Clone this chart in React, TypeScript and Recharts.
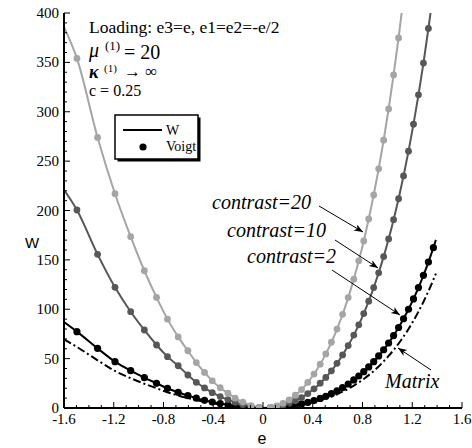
import React from 'react';
import { ComposedChart, Line, XAxis, YAxis } from 'recharts';

// Strain e (loading e3=e, e1=e2=-e/2) along the curves
const STRAIN = [
  -1.6, -1.496, -1.33, -1.19, -1.064, -0.954, -0.856, -0.768, -0.682, -0.604,
  -0.536, -0.47, -0.408, -0.344, -0.282, -0.224, -0.162, -0.096, -0.03, 0,
  0.06, 0.11, 0.16, 0.21, 0.26, 0.31, 0.36, 0.41, 0.46, 0.505,
  0.55, 0.595, 0.64, 0.685, 0.73, 0.77, 0.81, 0.85, 0.89, 0.93,
  0.97, 1.01, 1.05, 1.09, 1.13, 1.17, 1.21, 1.25, 1.29, 1.33,
  1.37, 1.39,
];
// strains that only carry the solid line, no Voigt marker
const LINE_ONLY = [-1.6, 0, 1.39];

const W_C20 = [
  386, 354, 274, 217, 173.5, 139, 112, 90, 72, 58,
  46, 36, 27.5, 20.5, 15, 10, 6, 2.5, 0.5, 0,
  0.6, 2.2, 4.7, 8.2, 12.9, 18.7, 25.9, 34.4, 44.4, 54.8,
  66.6, 79.9, 94.9, 111.8, 130.5, 149, 169.2, 191.4, 215.7, 242.2,
  271.2, 302.8, 337.3, 374.8, 415.7, null, null, null, null, null,
  null, null,
];
const W_C10 = [
  221, 200.5, 155.6, 122.2, 97.5, 79, 63.8, 52, 42.8, 33.4,
  26, 20.3, 15.5, 11.6, 8.5, 5.7, 3.4, 1.4, 0.3, 0,
  0.4, 1.2, 2.6, 4.7, 7.3, 10.6, 14.6, 19.4, 25.1, 31,
  37.6, 45.2, 53.7, 63.2, 73.8, 84.2, 95.6, 108.2, 121.9, 136.9,
  153.3, 171.2, 190.7, 211.9, 235, 260.1, 287.4, 317.1, 349.3, 384.3,
  422, null,
];
const W_C2 = [
  87, 77.3, 60.4, 46.9, 37.8, 30.7, 25, 19.9, 15.9, 12.5,
  10, 7.8, 6, 4.5, 3.3, 2.2, 1.3, 0.5, 0.1, 0,
  0.1, 0.5, 1, 1.8, 2.8, 4.1, 5.6, 7.5, 9.7, 11.9,
  14.5, 17.4, 20.6, 24.3, 28.4, 32.4, 36.8, 41.6, 46.9, 52.7,
  59, 65.8, 73.3, 81.5, 90.4, 100, 110.5, 121.9, 134.4, 147.8,
  162.4, 170.2,
];
const W_MATRIX = [
  69.5, 61.8, 48.3, 37.5, 30.2, 24.6, 20, 15.9, 12.7, 10,
  8, 6.2, 4.8, 3.6, 2.6, 1.8, 1, 0.4, 0.1, 0,
  0.1, 0.4, 0.8, 1.4, 2.2, 3.3, 4.5, 6, 7.7, 9.5,
  11.6, 13.9, 16.5, 19.4, 22.7, 25.9, 29.4, 33.3, 37.5, 42.1,
  47.2, 52.7, 58.7, 65.2, 72.3, 80, 88.4, 97.6, 107.5, 118.3,
  130, 136.2,
];

const X_MAJOR = [-1.6, -1.2, -0.8, -0.4, 0, 0.4, 0.8, 1.2, 1.6];
const X_MINOR = [
  -1.6, -1.5, -1.4, -1.3, -1.2, -1.1, -1, -0.9, -0.8, -0.7, -0.6, -0.5, -0.4, -0.3, -0.2, -0.1,
  0, 0.1, 0.2, 0.3, 0.4, 0.5, 0.6, 0.7, 0.8, 0.9, 1, 1.1, 1.2, 1.3, 1.4, 1.5, 1.6,
];
const Y_MAJOR = [0, 50, 100, 150, 200, 250, 300, 350, 400];
const Y_MINOR = [
  0, 10, 20, 30, 40, 50, 60, 70, 80, 90, 100, 110, 120, 130, 140, 150, 160, 170, 180, 190, 200,
  210, 220, 230, 240, 250, 260, 270, 280, 290, 300, 310, 320, 330, 340, 350, 360, 370, 380, 390, 400,
];

const LIGHT = '#a5a5a5';
const DARK = '#575757';
const SERIF = "'Liberation Serif', 'Times New Roman', Times, serif";
const SANS = "'Liberation Sans', Arial, sans-serif";

const serif = (size: number, extra: React.CSSProperties = {}): React.CSSProperties => ({
  fontFamily: SERIF,
  fontSize: size,
  ...extra,
});

const rows = STRAIN.map((e, i) => ({
  e,
  c20: W_C20[i],
  c10: W_C10[i],
  c2: W_C2[i],
  m: W_MATRIX[i],
}));

const isMajor = (v: number, list: number[]) => list.some((m) => Math.abs(m - v) < 1e-6);

// ticks point inward, majors longer and labelled
const BottomTick = ({ x, y, payload }: any) => {
  const major = isMajor(payload.value, X_MAJOR);
  return (
    <g>
      <line x1={x} x2={x} y1={y} y2={y - (major ? 6 : 3)} stroke="#000" strokeWidth={1} />
      {major && (
        <text x={x} y={y + 16} textAnchor="middle" style={serif(15)} fill="#000">
          {String(payload.value)}
        </text>
      )}
    </g>
  );
};

const TopTick = ({ x, y, payload }: any) => {
  const major = isMajor(payload.value, X_MAJOR);
  return <line x1={x} x2={x} y1={y} y2={y + (major ? 6 : 3)} stroke="#000" strokeWidth={1} />;
};

const LeftTick = ({ x, y, payload }: any) => {
  const major = isMajor(payload.value, Y_MAJOR);
  return (
    <g>
      <line x1={x} x2={x + (major ? 6 : 3)} y1={y} y2={y} stroke="#000" strokeWidth={1} />
      {major && (
        <text x={x - 5} y={y + 5} textAnchor="end" style={serif(15)} fill="#000">
          {String(payload.value)}
        </text>
      )}
    </g>
  );
};

const RightTick = ({ x, y, payload }: any) => {
  const major = isMajor(payload.value, Y_MAJOR);
  return <line x1={x} x2={x - (major ? 6 : 3)} y1={y} y2={y} stroke="#000" strokeWidth={1} />;
};

const markerDot = (color: string, r: number) => (props: any) => {
  const { cx, cy, payload, value, index } = props;
  const v = Array.isArray(value) ? value[1] : value;
  if (LINE_ONLY.includes(payload.e) || v == null || v > 400 || cx == null || cy == null) {
    return <g key={`n-${index}`} />;
  }
  return <circle key={`d-${index}`} cx={cx} cy={cy} r={r} fill={color} stroke="none" />;
};

const axisLine = { stroke: '#000', strokeWidth: 2 };

export default function App() {
  return (
    <div style={{ position: 'absolute', left: 0, top: 0, width: 472, height: 448, background: '#fff', fontFamily: SERIF }}>
      <ComposedChart
        width={472}
        height={448}
        data={rows}
        margin={{ top: 13, right: 10, bottom: 10, left: 30 }}
      >
        <XAxis
          xAxisId="b"
          dataKey="e"
          type="number"
          domain={[-1.6, 1.6]}
          ticks={X_MINOR}
          interval={0}
          tick={<BottomTick />}
          tickLine={false}
          tickSize={0}
          tickMargin={0}
          axisLine={axisLine}
          height={30}
          allowDataOverflow
        />
        <XAxis
          xAxisId="t"
          dataKey="e"
          orientation="top"
          type="number"
          domain={[-1.6, 1.6]}
          ticks={X_MINOR}
          interval={0}
          tick={<TopTick />}
          tickLine={false}
          tickSize={0}
          tickMargin={0}
          axisLine={axisLine}
          height={0}
          allowDataOverflow
        />
        <YAxis
          yAxisId="l"
          type="number"
          domain={[0, 400]}
          ticks={Y_MINOR}
          interval={0}
          tick={<LeftTick />}
          tickLine={false}
          tickSize={0}
          tickMargin={0}
          axisLine={axisLine}
          width={34}
          allowDataOverflow
        />
        <YAxis
          yAxisId="r"
          orientation="right"
          type="number"
          domain={[0, 400]}
          ticks={Y_MINOR}
          interval={0}
          tick={<RightTick />}
          tickLine={false}
          tickSize={0}
          tickMargin={0}
          axisLine={axisLine}
          width={0}
          allowDataOverflow
        />

        <Line
          xAxisId="b"
          yAxisId="l"
          dataKey="m"
          type="monotone"
          stroke="#000"
          strokeWidth={2}
          strokeDasharray="8 3 2 3"
          dot={false}
          activeDot={false}
          isAnimationActive={false}
        />
        <Line
          xAxisId="b"
          yAxisId="l"
          dataKey="c2"
          type="monotone"
          stroke="#000"
          strokeWidth={2}
          dot={markerDot('#000', 3.6)}
          activeDot={false}
          isAnimationActive={false}
        />
        <Line
          xAxisId="b"
          yAxisId="l"
          dataKey="c10"
          type="monotone"
          stroke={DARK}
          strokeWidth={2}
          dot={markerDot(DARK, 3.4)}
          activeDot={false}
          isAnimationActive={false}
        />
        <Line
          xAxisId="b"
          yAxisId="l"
          dataKey="c20"
          type="monotone"
          stroke={LIGHT}
          strokeWidth={2}
          dot={markerDot(LIGHT, 3.4)}
          activeDot={false}
          isAnimationActive={false}
        />
      </ComposedChart>

      <svg
        width={472}
        height={448}
        style={{ position: 'absolute', left: 0, top: 0, pointerEvents: 'none' }}
      >
        <defs>
          <marker id="ah" markerUnits="userSpaceOnUse" markerWidth={10} markerHeight={8} refX={9} refY={3.5} orient="auto">
            <path d="M0,0 L9,3.5 L0,7 L2.5,3.5 Z" fill="#000" />
          </marker>
        </defs>

        {/* axis titles */}
        <text x={32} y={248} textAnchor="middle" style={{ fontFamily: SANS, fontSize: 15 }} fill="#000">W</text>
        <text x={262} y={444} textAnchor="middle" style={{ fontFamily: SANS, fontSize: 16 }} fill="#000">e</text>

        {/* loading info */}
        <text x={89} y={33} style={serif(17.5)} fill="#000">Loading: e3=e, e1=e2=-e/2</text>
        <text x={89} y={57} style={serif(20, { fontStyle: 'italic' })} fill="#000">μ</text>
        <text x={105} y={50} style={serif(13)} fill="#000">(1)</text>
        <text x={124} y={59} style={serif(20)} fill="#000">= 20</text>
        <text x={89} y={78} style={serif(18, { fontStyle: 'italic', fontWeight: 'bold' })} fill="#000">κ</text>
        <text x={104} y={72} style={serif(11)} fill="#000">(1)</text>
        <text x={124} y={77} style={serif(17)} fill="#000">→ ∞</text>
        <text x={89} y={96} style={serif(16)} fill="#000">c = 0.25</text>

        {/* legend */}
        <rect x={117.5} y={117.5} width={83} height={44} fill="#000" />
        <rect x={115} y={115} width={83} height={44} fill="#fff" stroke="#000" strokeWidth={1.5} />
        <line x1={123} x2={162} y1={130} y2={130} stroke="#000" strokeWidth={2} />
        <text x={166} y={135} style={serif(14)} fill="#000">W</text>
        <circle cx={143} cy={147} r={3.6} fill="#000" />
        <text x={166} y={151} style={serif(14)} fill="#000">Voigt</text>

        {/* curve annotations */}
        <text x={212} y={209} style={serif(20, { fontStyle: 'italic' })} fill="#000">contrast=20</text>
        <text x={227} y={237} style={serif(20, { fontStyle: 'italic' })} fill="#000">contrast=10</text>
        <text x={247} y={263} style={serif(20, { fontStyle: 'italic' })} fill="#000">contrast=2</text>
        <text x={385} y={388} style={serif(20, { fontStyle: 'italic' })} fill="#000">Matrix</text>
        <line x1={319} y1={206} x2={363} y2={232} stroke="#000" strokeWidth={1} markerEnd="url(#ah)" />
        <line x1={335} y1={240} x2={378} y2={268} stroke="#000" strokeWidth={1} markerEnd="url(#ah)" />
        <line x1={332} y1={270} x2={400} y2={315} stroke="#000" strokeWidth={1} markerEnd="url(#ah)" />
        <line x1={431} y1={370} x2={398} y2={348} stroke="#000" strokeWidth={1} markerEnd="url(#ah)" />
      </svg>
    </div>
  );
}
